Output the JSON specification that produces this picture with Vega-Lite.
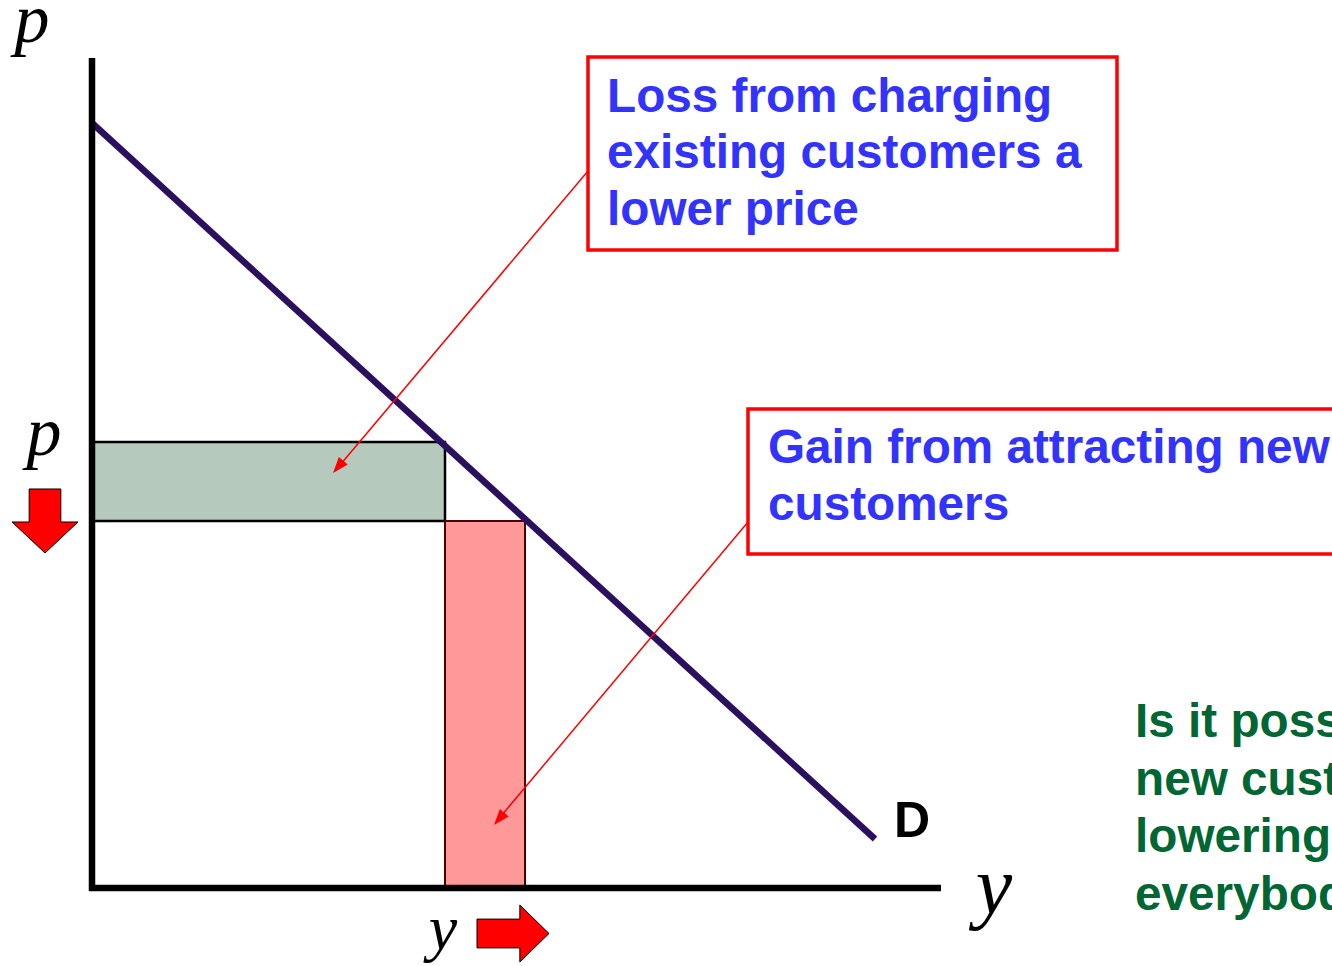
{
  "$schema": "https://vega.github.io/schema/vega-lite/v6.json",
  "width": 1332,
  "height": 966,
  "padding": 0,
  "autosize": "none",
  "background": "white",
  "config": {"view": {"stroke": null}},
  "datasets": {
    "loss": [{"x": 0, "y": 446, "x2": 353, "y2": 367}],
    "gain": [{"x": 353, "y": 367, "x2": 433, "y2": 0}],
    "demand": [{"x": 0, "y": 765, "x2": 783, "y2": 49}],
    "axes": [
      {"x": -3, "y": 0, "x2": 849, "y2": 0},
      {"x": 0, "y": -3, "x2": 0, "y2": 830}
    ],
    "boxes": [
      {"x": 496, "y": 831, "x2": 1025, "y2": 638},
      {"x": 656, "y": 479, "x2": 1260, "y2": 334}
    ],
    "pointers": [
      {"x": 496, "y": 717, "x2": 243, "y2": 417},
      {"x": 656, "y": 366, "x2": 404, "y2": 66}
    ],
    "tips": [
      {"x": 241, "y": 415},
      {"x": 402, "y": 63}
    ],
    "down": [{"x": -47, "y": 367}],
    "right": [{"x": 421, "y": -45.5}],
    "blue_text": [
      {"x": 515, "y": 776, "t": "Loss from charging"},
      {"x": 515, "y": 720, "t": "existing customers a"},
      {"x": 515, "y": 663, "t": "lower price"},
      {"x": 676, "y": 425, "t": "Gain from attracting new"},
      {"x": 676, "y": 368, "t": "customers"}
    ],
    "green_text": [
      {"x": 1043, "y": 151, "t": "Is it possible to attract"},
      {"x": 1043, "y": 93, "t": "new customers without"},
      {"x": 1043, "y": 36, "t": "lowering the price for"},
      {"x": 1043, "y": -22, "t": "everybody?"}
    ],
    "d_label": [{"x": 802, "y": 51, "t": "D"}],
    "p_labels": [
      {"x": -60, "y": 846, "t": "p"},
      {"x": -48, "y": 433, "t": "p"}
    ],
    "y_big": [{"x": 902, "y": -25, "t": "y"}],
    "y_small": [{"x": 351, "y": -61, "t": "y"}]
  },
  "encoding": {
    "x": {"field": "x", "type": "quantitative", "scale": {"domain": [-92, 1240], "nice": false, "zero": false}, "axis": null},
    "y": {"field": "y", "type": "quantitative", "scale": {"domain": [-78, 888], "nice": false, "zero": false}, "axis": null}
  },
  "layer": [
    {
      "data": {"name": "loss"},
      "mark": {"type": "rect", "fill": "#b5c9bd", "stroke": "#000000", "strokeWidth": 2.5},
      "encoding": {"x2": {"field": "x2"}, "y2": {"field": "y2"}}
    },
    {
      "data": {"name": "gain"},
      "mark": {"type": "rect", "fill": "#ff9999", "stroke": "#4a0000", "strokeWidth": 2},
      "encoding": {"x2": {"field": "x2"}, "y2": {"field": "y2"}}
    },
    {
      "data": {"name": "demand"},
      "mark": {"type": "rule", "color": "#2b1060", "strokeWidth": 6.5, "strokeCap": "butt"},
      "encoding": {"x2": {"field": "x2"}, "y2": {"field": "y2"}}
    },
    {
      "data": {"name": "axes"},
      "mark": {"type": "rule", "color": "#000000", "strokeWidth": 6.5, "strokeCap": "butt"},
      "encoding": {"x2": {"field": "x2"}, "y2": {"field": "y2"}}
    },
    {
      "data": {"name": "boxes"},
      "mark": {"type": "rect", "fill": "#ffffff", "stroke": "#ff0000", "strokeWidth": 3.5, "clip": true},
      "encoding": {"x2": {"field": "x2"}, "y2": {"field": "y2"}}
    },
    {
      "data": {"name": "pointers"},
      "mark": {"type": "rule", "color": "#ff0000", "strokeWidth": 1.5},
      "encoding": {"x2": {"field": "x2"}, "y2": {"field": "y2"}}
    },
    {
      "data": {"name": "tips"},
      "mark": {"type": "point", "shape": "M0,0 L0.36,1 L-0.36,1 Z", "filled": true, "color": "#ff0000", "opacity": 1, "size": 1024, "angle": 220, "strokeWidth": 0}
    },
    {
      "data": {"name": "down"},
      "mark": {"type": "point", "shape": "M-0.48,-0.97 L0.48,-0.97 L0.48,0.03 L1,0.03 L0,0.97 L-1,0.03 L-0.48,0.03 Z", "filled": true, "fill": "#ff0000", "stroke": "#000000", "strokeWidth": 1, "opacity": 1, "size": 4356}
    },
    {
      "data": {"name": "right"},
      "mark": {"type": "point", "shape": "M-1,-0.4 L0.19,-0.4 L0.19,-0.79 L1,0 L0.19,0.79 L0.19,0.4 L-1,0.4 Z", "filled": true, "fill": "#ff0000", "stroke": "#000000", "strokeWidth": 1, "opacity": 1, "size": 5184}
    },
    {
      "data": {"name": "blue_text"},
      "mark": {"type": "text", "font": "Liberation Sans", "fontWeight": "bold", "fontSize": 47.7, "color": "#3333ff", "align": "left", "baseline": "alphabetic", "clip": true},
      "encoding": {"text": {"field": "t"}}
    },
    {
      "data": {"name": "green_text"},
      "mark": {"type": "text", "font": "Liberation Sans", "fontWeight": "bold", "fontSize": 47.7, "color": "#006633", "align": "left", "baseline": "alphabetic", "clip": true},
      "encoding": {"text": {"field": "t"}}
    },
    {
      "data": {"name": "d_label"},
      "mark": {"type": "text", "font": "Liberation Sans", "fontWeight": "bold", "fontSize": 50, "color": "#000000", "align": "left", "baseline": "alphabetic"},
      "encoding": {"text": {"field": "t"}}
    },
    {
      "data": {"name": "p_labels"},
      "mark": {"type": "text", "font": "Liberation Serif", "fontStyle": "italic", "fontSize": 70, "color": "#000000", "align": "center", "baseline": "alphabetic"},
      "encoding": {"text": {"field": "t"}}
    },
    {
      "data": {"name": "y_big"},
      "mark": {"type": "text", "font": "Liberation Serif", "fontStyle": "italic", "fontSize": 82, "color": "#000000", "align": "center", "baseline": "alphabetic"},
      "encoding": {"text": {"field": "t"}}
    },
    {
      "data": {"name": "y_small"},
      "mark": {"type": "text", "font": "Liberation Serif", "fontStyle": "italic", "fontSize": 64, "color": "#000000", "align": "center", "baseline": "alphabetic"},
      "encoding": {"text": {"field": "t"}}
    }
  ]
}
